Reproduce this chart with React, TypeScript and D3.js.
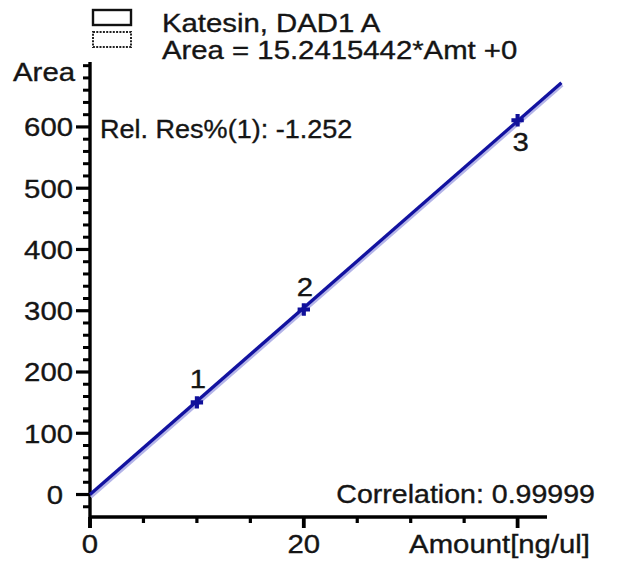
import React from "react";
import * as d3 from "d3";

const amounts = [10, 20, 40];
const areas = [150.5, 302, 611];
const pointLabels = ["1", "2", "3"];
const labelBelow = [false, false, true];
const slope = 15.2415442;
const lineAmountMax = 44.1;
const yMajorTicks = [0, 100, 200, 300, 400, 500, 600];
const yMinorStep = 20;
const xMajorTicks = [0, 20, 40];
const xTickLabels = ["0", "20", ""];
const xMinorStep = 5;
const legendTitle = "Katesin, DAD1 A";
const legendEquation = "Area = 15.2415442*Amt +0";
const relRes = "Rel. Res%(1): -1.252";
const correlation = "Correlation: 0.99999";
const xTitle = "Amount[ng/ul]";
const yTitle = "Area";

const W = 618;
const H = 567;
const FONT = "'Liberation Sans', Arial, sans-serif";
const FS = 25.5;
const SX = 1.15;
const TXT = "#151515";
const BLUE = "#1212a0";

const x = d3.scaleLinear().domain([0, 42.75]).range([90, 547]);
const y = d3.scaleLinear().domain([-36.7, 706]).range([517, 62]);

function Txt(props: { x: number; y: number; anchor?: string; sx?: number; size?: number; children: React.ReactNode }) {
  const sx = props.sx ?? SX;
  return (
    <text
      transform={`translate(${props.x},${props.y}) scale(${sx},1)`}
      textAnchor={props.anchor ?? "start"}
      fontFamily={FONT}
      fontSize={props.size ?? FS}
      fill={TXT}
      stroke={TXT}
      strokeWidth={0.35}
    >
      {props.children}
    </text>
  );
}

export default function App() {
  const [yLo, yHi] = y.domain();
  const [, xHi] = x.domain();
  const yMinor = d3.range(Math.ceil(yLo / yMinorStep) * yMinorStep, yHi + 0.001, yMinorStep).filter(
    (v) => !yMajorTicks.includes(v)
  );
  const xMinor = d3.range(0, xHi + 0.001, xMinorStep).filter((v) => !xMajorTicks.includes(v));
  const lineGen = d3
    .line<number>()
    .x((a) => x(a))
    .y((a) => y(a * slope));
  const lineData = [0, lineAmountMax];
  const cross = d3.symbol().type(d3.symbolCross).size(85)();

  return (
    <svg width={W} height={H} style={{ position: "absolute", left: 0, top: 0, background: "#fff" }}>
      <rect x={0} y={0} width={W} height={H} fill="#fff" />
      {/* legend */}
      <rect x={93} y={10} width={38} height={15} fill="none" stroke="#111" strokeWidth={2.4} />
      <rect x={93} y={32} width={38} height={15} fill="none" stroke="#222" strokeWidth={2} strokeDasharray="2,1.3" />
      <Txt x={162} y={32}>{legendTitle}</Txt>
      <Txt x={162} y={59}>{legendEquation}</Txt>

      {/* axes */}
      <line x1={x(0)} x2={x(0)} y1={y(yHi)} y2={528} stroke="#000" strokeWidth={3.4} />
      <line x1={x(0)} x2={x(xHi)} y1={y(yLo)} y2={y(yLo)} stroke="#000" strokeWidth={3.4} />
      {yMajorTicks.map((v) => (
        <line key={"ym" + v} x1={x(0) - 14} x2={x(0)} y1={y(v)} y2={y(v)} stroke="#000" strokeWidth={3.2} />
      ))}
      {yMinor.map((v) => (
        <line key={"yn" + v} x1={x(0) - 7} x2={x(0)} y1={y(v)} y2={y(v)} stroke="#000" strokeWidth={3} />
      ))}
      {yMajorTicks.map((v) => (
        <Txt key={"yl" + v} x={x(0) - (v === 0 ? 27 : 17)} y={y(v) + 9.5} anchor="end">
          {String(v)}
        </Txt>
      ))}
      {xMajorTicks.map((v) => (
        <line key={"xm" + v} x1={x(v)} x2={x(v)} y1={y(yLo)} y2={y(yLo) + 11} stroke="#000" strokeWidth={3.8} />
      ))}
      {xMinor.map((v) => (
        <line key={"xn" + v} x1={x(v)} x2={x(v)} y1={y(yLo)} y2={y(yLo) + 6} stroke="#000" strokeWidth={3.2} />
      ))}
      {xMajorTicks.map((v, i) =>
        xTickLabels[i] ? (
          <Txt key={"xl" + v} x={x(v)} y={553} anchor="middle">
            {xTickLabels[i]}
          </Txt>
        ) : null
      )}
      <Txt x={590} y={553} anchor="end">{xTitle}</Txt>
      <Txt x={75} y={81} anchor="end">{yTitle}</Txt>

      {/* annotations */}
      <Txt x={100} y={138} sx={1.06}>{relRes}</Txt>
      <Txt x={595} y={503} anchor="end" sx={1.12}>{correlation}</Txt>

      {/* calibration line */}
      <path d={lineGen(lineData) ?? ""} transform="translate(1,2.5)" fill="none" stroke="#b4b4e8" strokeWidth={3} />
      <path d={lineGen(lineData) ?? ""} fill="none" stroke={BLUE} strokeWidth={3.3} />

      {/* points */}
      {amounts.map((a, i) => (
        <path key={"p" + i} d={cross ?? ""} transform={`translate(${x(a)},${y(areas[i])})`} fill="#10109a" />
      ))}
      {amounts.map((a, i) => (
        <Txt
          key={"pl" + i}
          x={x(a) + (labelBelow[i] ? 3 : 1)}
          y={y(areas[i]) + (labelBelow[i] ? 31 : -14)}
          anchor="middle"
        >
          {pointLabels[i]}
        </Txt>
      ))}
    </svg>
  );
}
